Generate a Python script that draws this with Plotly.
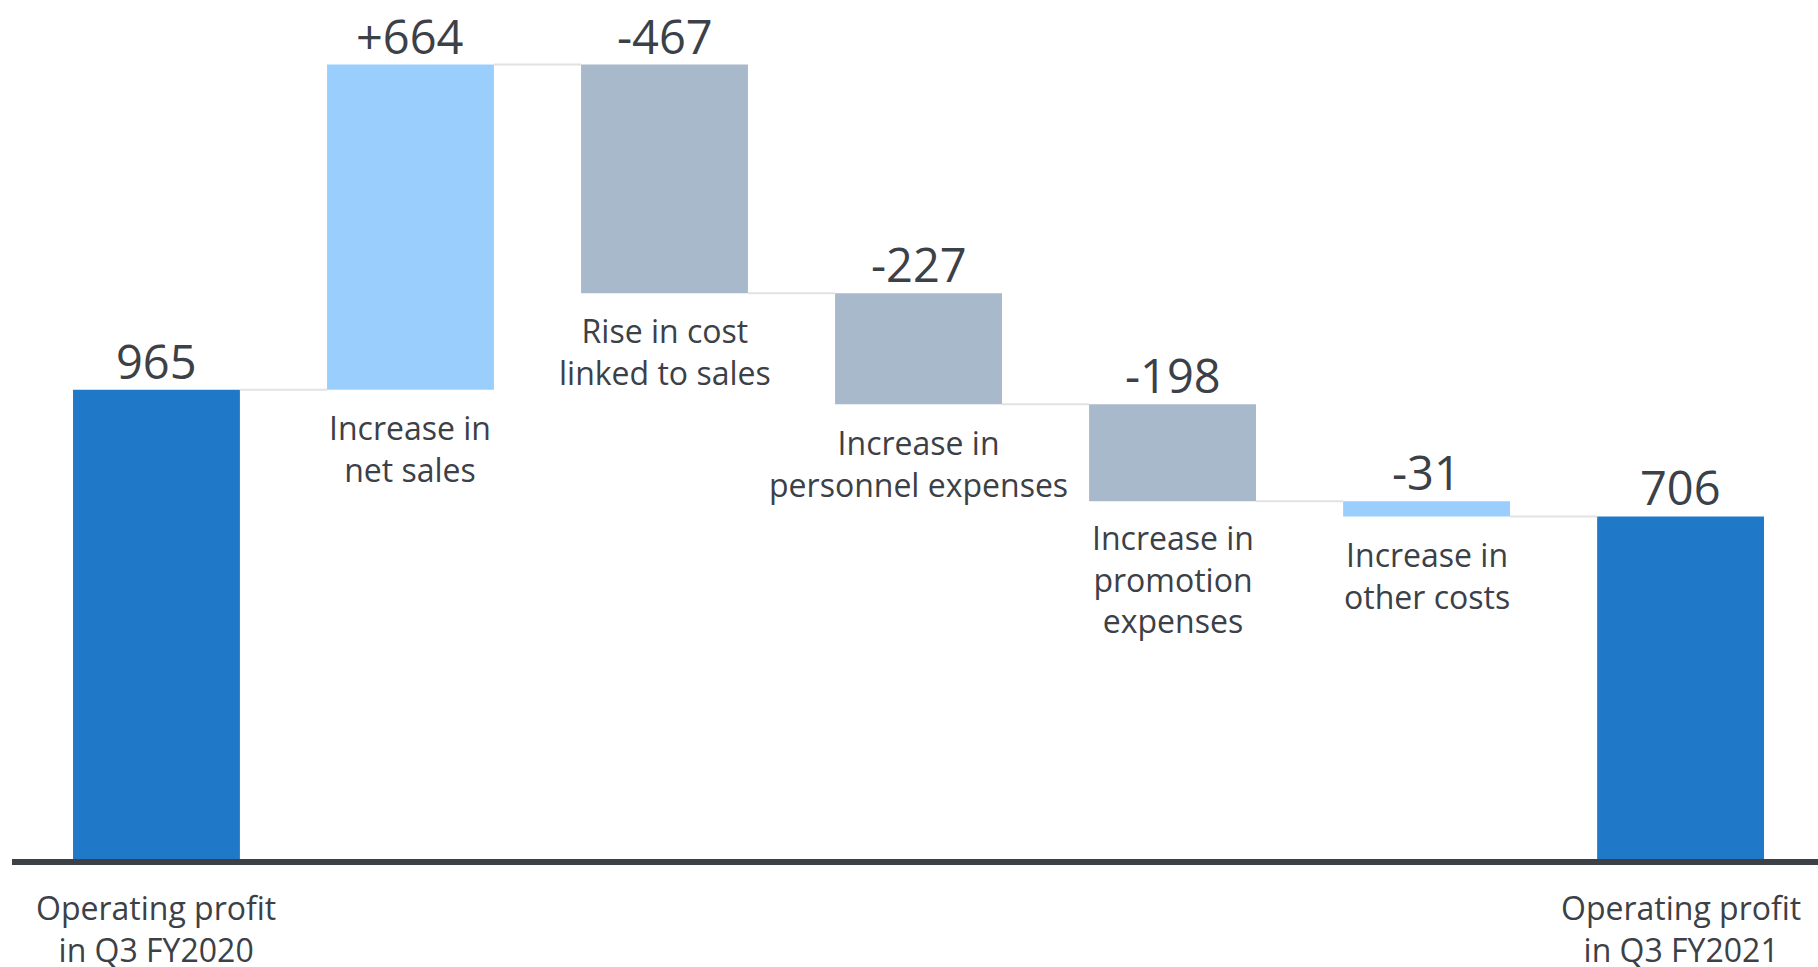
import plotly.graph_objects as go

# Operating profit bridge, Q3 FY2020 -> Q3 FY2021
categories = [
    "Operating profit<br>in Q3 FY2020",
    "Increase in<br>net sales",
    "Rise in cost<br>linked to sales",
    "Increase in<br>personnel expenses",
    "Increase in<br>promotion<br>expenses",
    "Increase in<br>other costs",
    "Operating profit<br>in Q3 FY2021",
]
values = [965, 664, -467, -227, -198, -31, 706]
measures = ["total", "relative", "relative", "relative", "relative", "relative", "total"]

# styling
DARK_BLUE = "#2079c8"
LIGHT_BLUE = "#9acffd"
GREY_BLUE = "#a8b9cb"
bar_colors = [DARK_BLUE, LIGHT_BLUE, GREY_BLUE, GREY_BLUE, GREY_BLUE, LIGHT_BLUE, DARK_BLUE]
TEXT = "#3c4047"
FONT = "Open Sans"
BAR_W = 0.657
LINE_GAP = 38.5  # approx px between category label lines

# cumulative bases for the floating bars
bases, heights, levels = [], [], []
running = 0
for v, m in zip(values, measures):
    if m == "total":
        bases.append(0)
        heights.append(v)
        running = v
    else:
        lo = min(running, running + v)
        bases.append(lo)
        heights.append(abs(v))
        running += v
    levels.append(running)

xs = list(range(len(values)))

fig = go.Figure()
fig.add_trace(go.Bar(
    x=xs, y=heights, base=bases, width=BAR_W,
    marker=dict(color=bar_colors, line=dict(width=0)),
    hoverinfo="skip",
))

# thin connectors between consecutive bars
for i in range(len(values) - 1):
    fig.add_shape(type="line", xref="x", yref="y",
                  x0=i + BAR_W / 2, x1=i + 1 - BAR_W / 2,
                  y0=levels[i], y1=levels[i],
                  line=dict(color="#e2e2e2", width=2))

# baseline
fig.add_shape(type="line", xref="paper", yref="y", x0=0.0066, x1=1, y0=0, y1=0,
              line=dict(color=TEXT, width=6))

annotations = []
for i, (v, m) in enumerate(zip(values, measures)):
    top = bases[i] + heights[i]
    bottom = bases[i]
    label = f"{v}" if m == "total" else f"{v:+d}"
    annotations.append(dict(
        x=i, y=top, xref="x", yref="y", text=label, showarrow=False,
        yanchor="bottom", xanchor="center", yshift=-5,
        font=dict(family=FONT, size=47, color=TEXT),
    ))
    n_lines = categories[i].count("<br>") + 1
    first = 47 if m == "total" else 39.5
    annotations.append(dict(
        x=i, y=bottom, xref="x", yref="y", text=categories[i], showarrow=False,
        yanchor="middle", xanchor="center", borderpad=0,
        yshift=-(first + (n_lines - 1) * LINE_GAP / 2),
        font=dict(family=FONT, size=32, color=TEXT),
    ))

fig.update_layout(
    width=1818, height=967,
    margin=dict(l=0, r=0, t=0, b=0),
    paper_bgcolor="white", plot_bgcolor="white",
    showlegend=False,
    annotations=annotations,
    xaxis=dict(range=[-0.616, 6.541], visible=False, fixedrange=True),
    yaxis=dict(range=[-214.5, 1761], visible=False, fixedrange=True),
    hovermode=False,
)

fig.write_html("out.html", config={"displayModeBar": False})
